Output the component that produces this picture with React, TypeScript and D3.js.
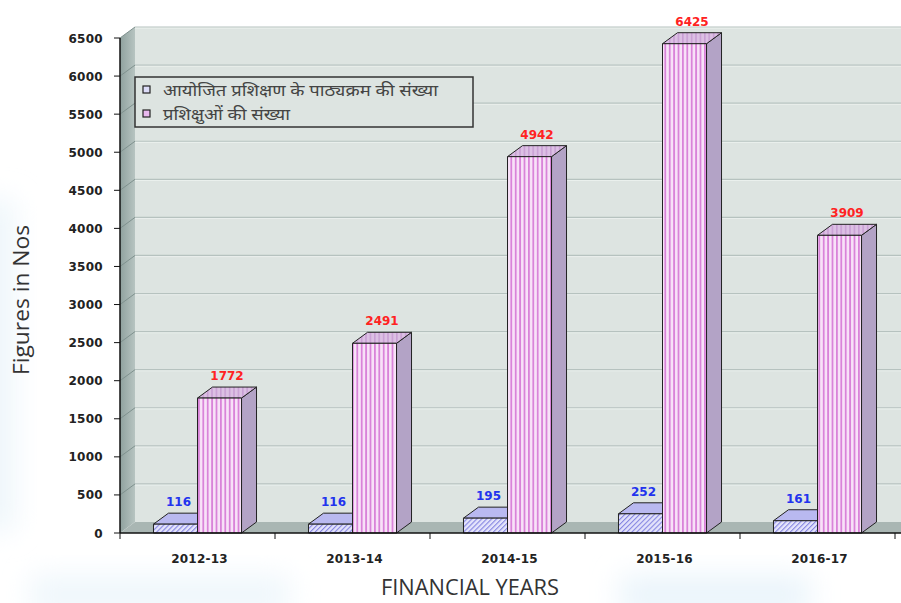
import React from "react";
import * as d3 from "d3";

const categories = ["2012-13", "2013-14", "2014-15", "2015-16", "2016-17"];
const coursesCount = [116, 116, 195, 252, 161];
const traineesCount = [1772, 2491, 4942, 6425, 3909];
const yTicks = [0, 500, 1000, 1500, 2000, 2500, 3000, 3500, 4000, 4500, 5000, 5500, 6000, 6500];
const legendLabels = ["आयोजित प्रशिक्षण के पाठ्यक्रम की संख्या", "प्रशिक्षुओं की संख्या"];

const W = 901;
const H = 603;
const X0 = 120;
const X1 = 895;
const DX = 15;
const DY = -11;

export default function App() {
  const y = d3.scaleLinear().domain([0, 6500]).range([533, 38]);
  const xBand = d3.scaleBand().domain(categories).range([X0, X1]).paddingInner(0).paddingOuter(0);
  const bw = xBand.bandwidth();
  const barW = bw * 0.284;
  const gap = (bw - 2 * barW) / 2;
  const y0 = y(0);

  const box = (x: number, w: number, v: number, front: string, top: string, side: string, key: string) => {
    const yt = y(v);
    return (
      <g key={key} stroke="#222" strokeWidth={1} strokeLinejoin="round">
        <polygon points={`${x + w},${yt} ${x + w + DX},${yt + DY} ${x + w + DX},${y0 + DY} ${x + w},${y0}`} fill={side} />
        <polygon points={`${x},${yt} ${x + DX},${yt + DY} ${x + w + DX},${yt + DY} ${x + w},${yt}`} fill={top} />
        <rect x={x} y={yt} width={w} height={y0 - yt} fill={front} />
      </g>
    );
  };

  return (
    <svg width={W} height={H} style={{ display: "block", position: "absolute", left: 0, top: 0 }}>
      <defs>
        <pattern id="pinkStripe" patternUnits="userSpaceOnUse" width={4.4} height={10}>
          <rect width={4.4} height={10} fill="#f8e2f8" />
          <rect x={0} width={1.8} height={10} fill="#d983d9" />
        </pattern>
        <pattern id="pinkTop" patternUnits="userSpaceOnUse" width={4.4} height={10}>
          <rect width={4.4} height={10} fill="#dcc0e4" />
          <rect x={0} width={1.6} height={10} fill="#c9a0d4" />
        </pattern>
        <pattern id="blueHatch" patternUnits="userSpaceOnUse" width={3.5} height={4} patternTransform="rotate(45)">
          <rect width={3.5} height={4} fill="#e4e4fb" />
          <rect width={1.1} height={4} fill="#8585e2" />
        </pattern>
        <linearGradient id="sideWall" x1="0" x2="1" y1="0" y2="0">
          <stop offset="0" stopColor="#8fa19e" />
          <stop offset="1" stopColor="#b7c4c1" />
        </linearGradient>
        <filter id="blur" x="-50%" y="-50%" width="200%" height="200%">
          <feGaussianBlur stdDeviation="14" />
        </filter>
      </defs>
      <rect width={W} height={H} fill="#ffffff" />
      {/* soft light-blue background glow */}
      <rect x={-30} y={200} width={45} height={330} fill="#eef6fb" filter="url(#blur)" />
      <rect x={30} y={575} width={260} height={40} fill="#eff7fc" filter="url(#blur)" />
      <rect x={620} y={575} width={190} height={40} fill="#eaf4fb" filter="url(#blur)" />

      {/* back wall */}
      <rect x={X0 + DX} y={y(6500) + DY} width={W - X0 - DX + 10} height={y0 - y(6500)} fill="#dde4e1" />
      {/* side wall */}
      <polygon points={`${X0},${y(6500)} ${X0 + DX},${y(6500) + DY} ${X0 + DX},${y0 + DY} ${X0},${y0}`} fill="url(#sideWall)" />
      {/* floor */}
      <polygon points={`${X0},${y0} ${X0 + DX},${y0 + DY} ${W + 10},${y0 + DY} ${W + 10},${y0}`} fill="#a9b6b3" />

      {/* grid lines */}
      {yTicks.slice(1).map((t) => (
        <g key={"g" + t}>
          <line x1={X0 + DX} x2={W} y1={y(t) + DY} y2={y(t) + DY} stroke="#b6c2bf" strokeWidth={1.2} />
          <line x1={X0 + DX} x2={W} y1={y(t) + DY + 1.2} y2={y(t) + DY + 1.2} stroke="#eef2f0" strokeWidth={0.8} />
          <line x1={X0} x2={X0 + DX} y1={y(t)} y2={y(t) + DY} stroke="#7f918e" strokeWidth={1} />
        </g>
      ))}

      {/* bars */}
      {categories.map((c, i) => {
        const bx = (xBand(c) as number) + gap;
        return (
          <g key={c}>
            {box(bx, barW, coursesCount[i], "url(#blueHatch)", "#b9b9f0", "#9c9cd8", "b" + i)}
            {box(bx + barW, barW, traineesCount[i], "url(#pinkStripe)", "url(#pinkTop)", "#b3a3c6", "p" + i)}
          </g>
        );
      })}

      {/* axes */}
      <line x1={X0} x2={X0} y1={y(6500)} y2={y0} stroke="#111" strokeWidth={1.5} />
      <line x1={X0} x2={W} y1={y0} y2={y0} stroke="#111" strokeWidth={1.5} />
      {yTicks.map((t) => (
        <g key={"t" + t}>
          <line x1={X0 - 6} x2={X0} y1={y(t)} y2={y(t)} stroke="#111" strokeWidth={1} />
          <text x={103} y={y(t) + 4.5} textAnchor="end" fontFamily="DejaVu Sans" fontWeight="bold" fontSize={12} fill="#222" letterSpacing={0.3}>
            {t}
          </text>
        </g>
      ))}
      {[X0, ...categories.map((c) => (xBand(c) as number) + bw)].map((xv, i) => (
        <line key={"ct" + i} x1={xv} x2={xv} y1={y0} y2={y0 + 6} stroke="#111" strokeWidth={1} />
      ))}
      {categories.map((c) => (
        <text key={"cl" + c} x={(xBand(c) as number) + bw / 2 + 2} y={563} textAnchor="middle" fontFamily="DejaVu Sans" fontWeight="bold" fontSize={12} fill="#222" letterSpacing={0.2}>
          {c}
        </text>
      ))}

      {/* value labels */}
      {categories.map((c, i) => {
        const bx = (xBand(c) as number) + gap;
        return (
          <g key={"vl" + c} fontFamily="DejaVu Sans" fontWeight="bold" fontSize={12} textAnchor="middle">
            <text x={bx + barW / 2 + 3} y={y(coursesCount[i]) + DY - 7} fill="#2233ee">
              {coursesCount[i]}
            </text>
            <text x={bx + barW + barW / 2 + DX / 2} y={y(traineesCount[i]) + DY - 7} fill="#ff2222">
              {traineesCount[i]}
            </text>
          </g>
        );
      })}

      {/* legend */}
      <rect x={135} y={77} width={338} height={50} fill="#dde4e1" stroke="#333" strokeWidth={1.5} />
      {legendLabels.map((l, i) => (
        <g key={"lg" + i}>
          <rect x={143} y={86 + i * 24} width={7} height={7} fill={i === 0 ? "#dcdcf8" : "#e8b8ee"} stroke="#222" strokeWidth={1.2} />
          <text x={163} y={96 + i * 24} fontFamily="Noto Sans, DejaVu Sans, sans-serif" fontSize={16} fill="#444" textLength={i === 0 ? 275 : 127} lengthAdjust="spacingAndGlyphs">
            {l}
          </text>
        </g>
      ))}

      {/* axis titles */}
      <text transform={`translate(29,300) rotate(-90)`} textAnchor="middle" fontFamily="Open Sans" fontSize={22} fill="#333" textLength={150} lengthAdjust="spacingAndGlyphs">
        Figures in Nos
      </text>
      <text x={470} y={595} textAnchor="middle" fontFamily="Open Sans" fontSize={21} fill="#333" textLength={178} lengthAdjust="spacingAndGlyphs">
        FINANCIAL YEARS
      </text>
    </svg>
  );
}
